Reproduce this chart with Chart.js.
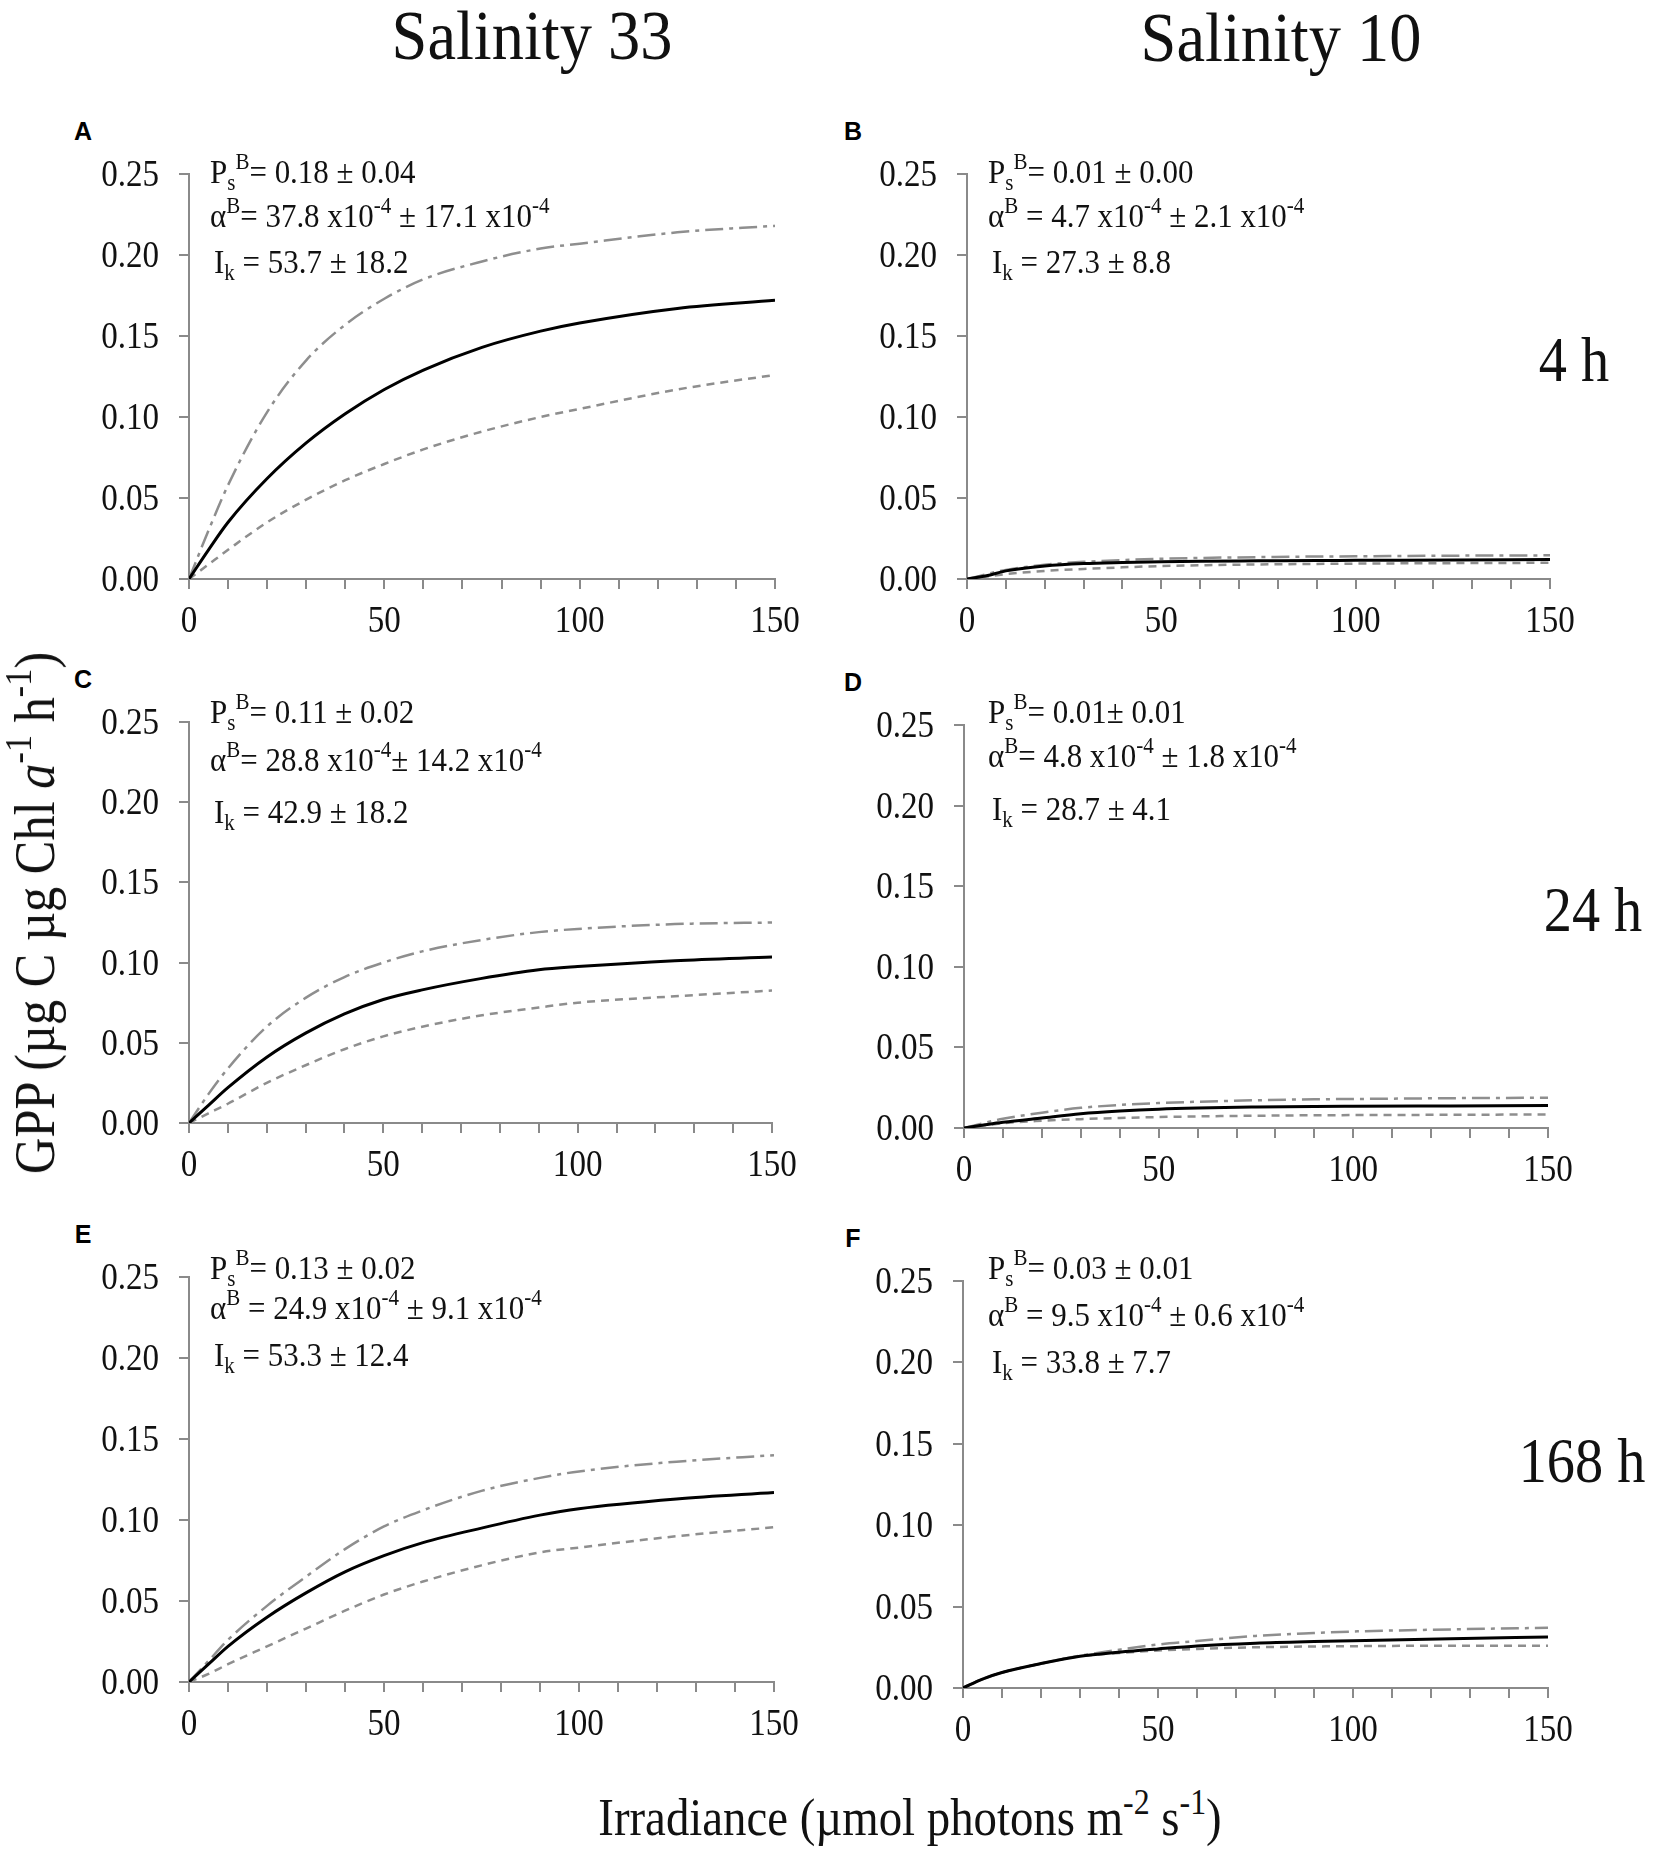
<!DOCTYPE html>
<html>
<head>
<meta charset="utf-8">
<title>GPP vs irradiance</title>
<script src="https://cdn.jsdelivr.net/npm/chart.js@4.4.0/dist/chart.umd.min.js"></script>
<style>
    body {
        margin: 0;
        width: 1654px;
        height: 1852px;
        position: relative;
        overflow: hidden;
        background: #fff;
        color: #111;
        font-family: "Liberation Serif", "Times New Roman", serif;
    }
    .panel { position: absolute; }
    .txt { position: absolute; white-space: nowrap; line-height: 1; }
    .title { font-size: 70px; transform: translate(-50%, -50%) scaleX(0.92); }
    .letter { font-family: "Liberation Sans", Arial, sans-serif; font-weight: bold; font-size: 25px; color: #000; transform: translate(-50%, -50%); }
    .note { font-size: 34px; transform: scaleX(0.91); transform-origin: left center; }
    .time { font-size: 64px; transform: translate(-50%, -50%) scaleX(0.88); }
    .axis-title { font-size: 52px; transform: translate(-50%, -50%) scaleX(0.9); }
    .y-title { font-size: 56px; transform: translate(-50%, -50%) rotate(-90deg) scaleX(0.9); }
    sup, sub { font-size: 0.68em; position: relative; vertical-align: baseline; line-height: 0; }
    sup { top: -0.6em; }
    sub { top: 0.3em; }
</style>
</head>
<body>
<script>
// Irradiance (x) sample points
const irradiance = [0, 5, 10, 20, 30, 40, 50, 60, 75, 90, 100, 125, 150];

// A - salinity 33, 4 h
const meanA  = [0, 0.018, 0.035, 0.062, 0.084, 0.102, 0.117, 0.129, 0.143, 0.153, 0.158, 0.167, 0.172];
const upperA = [0, 0.030, 0.058, 0.103, 0.135, 0.157, 0.173, 0.185, 0.196, 0.204, 0.207, 0.214, 0.218];
const lowerA = [0, 0.009, 0.018, 0.035, 0.049, 0.061, 0.071, 0.080, 0.091, 0.100, 0.105, 0.117, 0.126];

// B - salinity 10, 4 h
const meanB  = [0, 0.002, 0.005, 0.008, 0.0095, 0.0102, 0.0107, 0.011, 0.0112, 0.0114, 0.0115, 0.0118, 0.012];
const upperB = [0, 0.003, 0.0056, 0.0088, 0.0106, 0.0117, 0.0125, 0.013, 0.0135, 0.0139, 0.014, 0.0144, 0.0146];
const lowerB = [0, 0.0015, 0.003, 0.005, 0.0062, 0.0072, 0.008, 0.0085, 0.009, 0.0093, 0.0095, 0.0098, 0.010];

// C - salinity 33, 24 h
const meanC  = [0, 0.011, 0.022, 0.041, 0.056, 0.068, 0.077, 0.083, 0.090, 0.0955, 0.0975, 0.1012, 0.1035];
const upperC = [0, 0.018, 0.034, 0.060, 0.078, 0.091, 0.100, 0.107, 0.114, 0.119, 0.121, 0.124, 0.125];
const lowerC = [0, 0.006, 0.012, 0.025, 0.036, 0.046, 0.054, 0.060, 0.067, 0.072, 0.075, 0.079, 0.0826];

// D - salinity 10, 24 h
const meanD  = [0, 0.0018, 0.0035, 0.0062, 0.0088, 0.0105, 0.0117, 0.0124, 0.013, 0.0134, 0.0135, 0.0137, 0.0139];
const upperD = [0, 0.003, 0.0057, 0.0095, 0.0125, 0.0143, 0.0155, 0.0163, 0.0172, 0.0178, 0.018, 0.0185, 0.0188];
const lowerD = [0, 0.0015, 0.003, 0.0045, 0.0055, 0.0062, 0.0068, 0.0072, 0.0076, 0.0079, 0.008, 0.0082, 0.0084];

// E - salinity 33, 168 h
const meanE  = [0, 0.011, 0.022, 0.040, 0.055, 0.068, 0.078, 0.086, 0.095, 0.103, 0.107, 0.113, 0.117];
const upperE = [0, 0.013, 0.026, 0.047, 0.065, 0.082, 0.096, 0.106, 0.118, 0.126, 0.130, 0.136, 0.140];
const lowerE = [0, 0.005, 0.011, 0.022, 0.033, 0.044, 0.054, 0.062, 0.072, 0.080, 0.083, 0.090, 0.0955];

// F - salinity 10, 168 h
const meanF  = [0, 0.0055, 0.0095, 0.015, 0.0195, 0.022, 0.024, 0.0258, 0.0275, 0.0285, 0.029, 0.0303, 0.0313];
const upperF = [0, 0.0055, 0.0095, 0.015, 0.0198, 0.0235, 0.0267, 0.0288, 0.032, 0.0338, 0.0347, 0.036, 0.037];
const lowerF = [0, 0.0055, 0.0095, 0.015, 0.0195, 0.0215, 0.023, 0.024, 0.025, 0.0255, 0.0257, 0.026, 0.026];

// Tick values
const yTicks = [0, 0.05, 0.10, 0.15, 0.20, 0.25];
const xLabelTicks = [0, 50, 100, 150];

// Fit parameters printed in each panel
const panelLetters = ['A', 'B', 'C', 'D', 'E', 'F'];
const psText = ['0.18 ± 0.04', '0.01 ± 0.00', '0.11 ± 0.02', '0.01± 0.01', '0.13 ± 0.02', '0.03 ± 0.01'];
const alphaText = [
    ['= 37.8 x10', ' ± 17.1 x10'],
    [' = 4.7 x10', ' ± 2.1 x10'],
    ['= 28.8 x10', '± 14.2 x10'],
    ['= 4.8 x10', ' ± 1.8 x10'],
    [' = 24.9 x10', ' ± 9.1 x10'],
    [' = 9.5 x10', ' ± 0.6 x10']
];
const ikText = ['53.7 ± 18.2', '27.3 ± 8.8', '42.9 ± 18.2', '28.7 ± 4.1', '53.3 ± 12.4', '33.8 ± 7.7'];
const timeLabels = ['4 h', '24 h', '168 h'];

// Plot area of each panel: [left, top, width, height]
const boxes = [
    [189, 174, 586, 405],
    [967, 174, 583, 405],
    [189, 722, 583, 401],
    [964, 725, 584, 403],
    [189, 1277, 585, 405],
    [963, 1281, 585, 407]
];
const series = [
    [meanA, upperA, lowerA],
    [meanB, upperB, lowerB],
    [meanC, upperC, lowerC],
    [meanD, upperD, lowerD],
    [meanE, upperE, lowerE],
    [meanF, upperF, lowerF]
];
// vertical centre of the three note lines per panel
const noteCenters = [
    [172, 216, 262],
    [172, 216, 262],
    [712, 760, 812],
    [712, 756, 809],
    [1268, 1308, 1355],
    [1268, 1315, 1362]
];

const Y_AXIS_W = 130;
const X_AXIS_H = 70;
const PAD_TOP = 25;
const PAD_RIGHT = 45;
const AXIS_COLOR = '#8a8a8a';

// tick labels in a narrow Times-like face, placed with the chart's own scales
const condensedTicks = {
    id: 'condensedTicks',
    afterDraw(chart) {
        const ctx = chart.ctx;
        const xs = chart.scales.x;
        const ys = chart.scales.y;
        ctx.save();
        ctx.fillStyle = '#111';
        ctx.font = '38px "Liberation Serif"';
        ctx.textBaseline = 'middle';
        yTicks.forEach(v => {
            ctx.save();
            ctx.translate(xs.left - 30, ys.getPixelForValue(v) + 2);
            ctx.scale(0.87, 1);
            ctx.textAlign = 'right';
            ctx.fillText(v.toFixed(2), 0, 0);
            ctx.restore();
        });
        xLabelTicks.forEach(v => {
            ctx.save();
            ctx.translate(xs.getPixelForValue(v), ys.bottom + 43);
            ctx.scale(0.87, 1);
            ctx.textAlign = 'center';
            ctx.fillText(String(v), 0, 0);
            ctx.restore();
        });
        ctx.restore();
    }
};

function addText(html, x, y, cls) {
    const el = document.createElement('div');
    el.className = 'txt ' + cls;
    el.style.left = x + 'px';
    el.style.top = y + 'px';
    el.innerHTML = html;
    document.body.appendChild(el);
    return el;
}

function toPoints(values) {
    return irradiance.map((x, i) => ({ x: x, y: values[i] }));
}

function makePanel(index) {
    const [left, top, w, h] = boxes[index];
    const [mean, upper, lower] = series[index];

    const wrap = document.createElement('div');
    wrap.className = 'panel';
    wrap.style.left = (left - Y_AXIS_W) + 'px';
    wrap.style.top = (top - PAD_TOP) + 'px';
    wrap.style.width = (Y_AXIS_W + w + PAD_RIGHT) + 'px';
    wrap.style.height = (PAD_TOP + h + X_AXIS_H) + 'px';
    const canvas = document.createElement('canvas');
    wrap.appendChild(canvas);
    document.body.appendChild(wrap);

    new Chart(canvas.getContext('2d'), {
        type: 'line',
        data: {
            datasets: [
                { data: toPoints(mean), borderColor: '#000', borderWidth: 3 },
                { data: toPoints(upper), borderColor: '#8e8e8e', borderWidth: 2.5, borderDash: [18, 6, 4, 6] },
                { data: toPoints(lower), borderColor: '#8e8e8e', borderWidth: 2.5, borderDash: [8, 6] }
            ]
        },
        options: {
            responsive: true,
            maintainAspectRatio: false,
            animation: false,
            layout: { padding: { top: PAD_TOP, right: PAD_RIGHT, left: 0, bottom: 0 } },
            elements: {
                point: { radius: 0 },
                line: { cubicInterpolationMode: 'monotone', fill: false }
            },
            plugins: { legend: { display: false }, tooltip: { enabled: false } },
            scales: {
                x: {
                    type: 'linear',
                    min: 0,
                    max: 150,
                    afterFit: (s) => { s.height = X_AXIS_H; },
                    border: { display: true, color: AXIS_COLOR, width: 2 },
                    grid: { drawOnChartArea: false, drawTicks: true, tickLength: 10, color: AXIS_COLOR, lineWidth: 2 },
                    ticks: { stepSize: 10, autoSkip: false, maxRotation: 0, display: false }
                },
                y: {
                    min: 0,
                    max: 0.25,
                    afterFit: (s) => { s.width = Y_AXIS_W; },
                    afterBuildTicks: (s) => { s.ticks = yTicks.map(v => ({ value: v })); },
                    border: { display: true, color: AXIS_COLOR, width: 2 },
                    grid: { drawOnChartArea: false, drawTicks: true, tickLength: 10, color: AXIS_COLOR, lineWidth: 2 },
                    ticks: { display: false }
                }
            }
        },
        plugins: [condensedTicks]
    });

    // panel letter
    const letterX = index % 2 === 0 ? 83 : 853;
    addText(panelLetters[index], letterX, top - 43, 'letter');

    // fit parameters
    const nx = index % 2 === 0 ? 210 : 988;
    const [c1, c2, c3] = noteCenters[index];
    const half = 17;
    addText('P<sub>s</sub><sup>B</sup>= ' + psText[index], nx, c1 - half, 'note');
    addText('α<sup>B</sup>' + alphaText[index][0] + '<sup>-4</sup>' + alphaText[index][1] + '<sup>-4</sup>', nx, c2 - half, 'note');
    addText('I<sub>k</sub> = ' + ikText[index], nx + 4, c3 - half, 'note');
}

for (let i = 0; i < boxes.length; i++) makePanel(i);

// column titles
addText('Salinity 33', 532, 36, 'title');
addText('Salinity 10', 1281, 38, 'title');

// time labels
addText(timeLabels[0], 1574, 360, 'time');
addText(timeLabels[1], 1593, 910, 'time');
addText(timeLabels[2], 1582, 1461, 'time');

// axis titles
addText('GPP (µg C µg Chl <i>a</i><sup>-1</sup> h<sup>-1</sup>)', 35, 913, 'y-title');
addText('Irradiance (µmol photons m<sup>-2</sup> s<sup>-1</sup>)', 910, 1818, 'axis-title');
</script>
</body>
</html>
